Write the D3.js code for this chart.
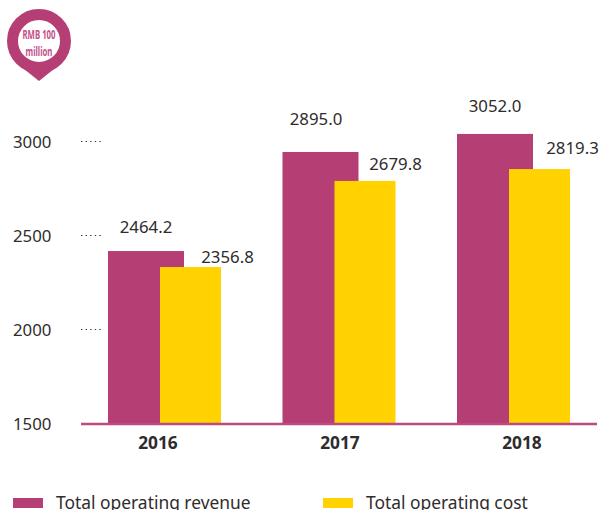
<!DOCTYPE html>
<html><head><meta charset="utf-8">
<script src="https://cdn.jsdelivr.net/npm/d3@7"></script>
<style>html,body{margin:0;padding:0;background:#fff;overflow:hidden}svg{display:block}text{font-family:"Noto Sans","Open Sans",sans-serif}</style>
</head><body><svg id="c" width="599" height="510"></svg>
<script>
// Data
const years = [2016, 2017, 2018];
const revenueLabels = ["2464.2", "2895.0", "3052.0"];
const costLabels = ["2356.8", "2679.8", "2819.3"];
// Bar heights as read against the printed axis (the source's bars are not drawn to label scale)
const revenueBars = [2420, 2947, 3043];
const costBars = [2335, 2793, 2856];
const yTicks = [1500, 2000, 2500, 3000];
const legendNames = ["Total operating revenue", "Total operating cost"];
const unitLines = ["RMB 100", "million"];

// Style / layout
const magenta = "#B53E74", yellow = "#FFD200", ink = "#2f2c2d";
const revLabelNudge = [[38, -24], [33.5, -33], [38, -28]];
const costLabelNudge = [[67.5, -10], [61, -17], [63.5, -21]];

const svg = d3.select("#c");
const y = d3.scaleLinear().domain([1500, 3000]).range([424, 142]);
const xBar = d3.scaleLinear().domain([2016, 2018]).range([108, 457]);
const xLab = d3.scaleLinear().domain([2016, 2018]).range([158, 522]);
const revW = 76, costW = 61, costOff = 52;

// Bars
svg.selectAll("rect.rev").data(years).join("rect").attr("class", "rev")
  .attr("x", d => xBar(d)).attr("width", revW)
  .attr("y", (d, i) => y(revenueBars[i])).attr("height", (d, i) => y(1500) - y(revenueBars[i]))
  .attr("fill", magenta);
svg.selectAll("rect.cost").data(years).join("rect").attr("class", "cost")
  .attr("x", d => xBar(d) + costOff).attr("width", costW)
  .attr("y", (d, i) => y(costBars[i])).attr("height", (d, i) => y(1500) - y(costBars[i]))
  .attr("fill", yellow);

// Baseline
svg.append("line").attr("x1", 81).attr("x2", 597).attr("y1", y(1500)).attr("y2", y(1500))
  .attr("stroke", "#BC4A80").attr("stroke-width", 2.6);

// Y axis labels and dotted ticks
svg.selectAll("text.yt").data(yTicks).join("text").attr("class", "yt")
  .attr("x", 13).attr("y", d => y(d)).attr("dy", "0.35em")
  .attr("font-size", 16.8).attr("fill", ink).text(d => d);
svg.selectAll("line.yd").data(yTicks.slice(1)).join("line").attr("class", "yd")
  .attr("x1", 81).attr("x2", 101).attr("y1", d => y(d) - 0.5).attr("y2", d => y(d) - 0.5)
  .attr("stroke", "#333").attr("stroke-width", 1.2).attr("stroke-dasharray", "1.4 3.2");

// Year labels
svg.selectAll("text.yr").data(years).join("text").attr("class", "yr")
  .attr("x", d => xLab(d)).attr("y", 449).attr("text-anchor", "middle")
  .attr("font-size", 17.3).attr("font-weight", 700).attr("fill", ink).text(d => d);

// Value labels
svg.selectAll("text.rv").data(years).join("text").attr("class", "rv")
  .attr("x", (d, i) => xBar(d) + revLabelNudge[i][0])
  .attr("y", (d, i) => y(revenueBars[i]) + revLabelNudge[i][1]).attr("dy", "0.35em")
  .attr("text-anchor", "middle").attr("font-size", 16.8).attr("fill", ink)
  .text((d, i) => revenueLabels[i]);
svg.selectAll("text.cv").data(years).join("text").attr("class", "cv")
  .attr("x", (d, i) => xBar(d) + costOff + costLabelNudge[i][0])
  .attr("y", (d, i) => y(costBars[i]) + costLabelNudge[i][1]).attr("dy", "0.35em")
  .attr("text-anchor", "middle").attr("font-size", 16.8).attr("fill", ink)
  .text((d, i) => costLabels[i]);

// Legend
const legendX = d3.scaleOrdinal().domain(legendNames).range([13, 323]);
const legendColor = d3.scaleOrdinal().domain(legendNames).range([magenta, yellow]);
svg.selectAll("rect.lg").data(legendNames).join("rect").attr("class", "lg")
  .attr("x", d => legendX(d)).attr("y", 498).attr("width", 30).attr("height", 10)
  .attr("fill", d => legendColor(d));
svg.selectAll("text.lg").data(legendNames).join("text").attr("class", "lg")
  .attr("x", d => legendX(d) + 43).attr("y", 509)
  .attr("font-size", 17.4).attr("fill", ink).text(d => d);

// Unit badge
const pin = svg.append("g").attr("transform", "translate(39,41)");
pin.append("path").attr("d", "M-20,24 L0,40 L20,24 Z").attr("fill", magenta);
pin.append("circle").attr("r", 26.5).attr("fill", "#fff").attr("stroke", magenta).attr("stroke-width", 11);
unitLines.forEach((t, i) => {
  pin.append("text").attr("transform", `translate(0,${-2 + i * 17}) scale(0.6,1)`)
    .attr("text-anchor", "middle").attr("font-size", 13).attr("font-weight", 700)
    .attr("fill", "#C4508A").text(t);
});
</script></body></html>
